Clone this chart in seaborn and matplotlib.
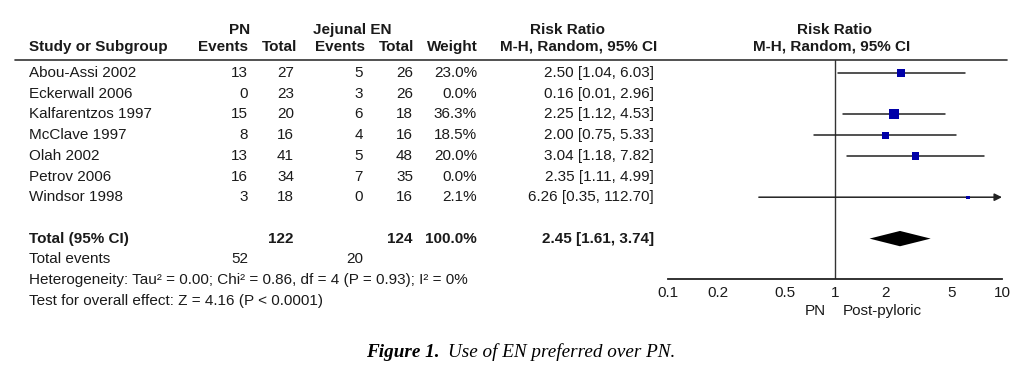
import matplotlib
matplotlib.use("Agg")
import matplotlib.pyplot as plt
import seaborn as sns
import numpy as np
import pandas as pd

# data
studies = ["Abou-Assi 2002", "Eckerwall 2006", "Kalfarentzos 1997", "McClave 1997",
           "Olah 2002", "Petrov 2006", "Windsor 1998"]
pn_events = [13, 0, 15, 8, 13, 16, 3]
pn_total = [27, 23, 20, 16, 41, 34, 18]
en_events = [5, 3, 6, 4, 5, 7, 0]
en_total = [26, 26, 18, 16, 48, 35, 16]
weight = [23.0, 0.0, 36.3, 18.5, 20.0, 0.0, 2.1]
rr = [2.50, 0.16, 2.25, 2.00, 3.04, 2.35, 6.26]
ci_lo = [1.04, 0.01, 1.12, 0.75, 1.18, 1.11, 0.35]
ci_hi = [6.03, 2.96, 4.53, 5.33, 7.82, 4.99, 112.70]

total_pn, total_en = 122, 124
total_weight = 100.0
events_pn, events_en = 52, 20
pooled = 2.45
pooled_lo, pooled_hi = 1.61, 3.74
heterogeneity = "Heterogeneity: Tau\u00b2 = 0.00; Chi\u00b2 = 0.86, df = 4 (P = 0.93); I\u00b2 = 0%"
overall = "Test for overall effect: Z = 4.16 (P < 0.0001)"
xticks = [0.1, 0.2, 0.5, 1, 2, 5, 10]

df = pd.DataFrame({"study": studies, "rr": rr, "lo": ci_lo, "hi": ci_hi, "w": weight})
df["row"] = np.arange(len(df))

sns.set_style("white")
plt.rcParams["font.family"] = ["Liberation Sans", "DejaVu Sans"]
txt = "#1a1a1a"
fs = 11

W, H = 1020, 370
fig = plt.figure(figsize=(W / 100, H / 100), dpi=100)

# text layer: x in pixels, y in row units
tab = fig.add_axes([0, 0, 1, 1])
y0, dy = 73, 20.7
tab.set_xlim(0, W)
tab.set_ylim((H - y0) / dy, -y0 / dy)
tab.axis("off")

def put(x, y, s, ha="right", bold=False, **kw):
    tab.text(x, y, s, ha=ha, va="center", fontsize=fs, color=txt,
             fontweight="bold" if bold else "normal", **kw)

h1, h2 = -2.1, -1.27
put(240, h1, "PN", ha="center", bold=True)
put(352, h1, "Jejunal EN", ha="center", bold=True)
put(568, h1, "Risk Ratio", ha="center", bold=True)
put(835, h1, "Risk Ratio", ha="center", bold=True)
put(29, h2, "Study or Subgroup", ha="left", bold=True)
put(248, h2, "Events", bold=True)
put(297, h2, "Total", bold=True)
put(365, h2, "Events", bold=True)
put(414, h2, "Total", bold=True)
put(478, h2, "Weight", bold=True)
put(579, h2, "M-H, Random, 95% CI", ha="center", bold=True)
put(832, h2, "M-H, Random, 95% CI", ha="center", bold=True)
tab.plot([15, 1007], [-0.63, -0.63], color="#333333", lw=1.2)

for i, r in df.iterrows():
    put(29, r.row, r.study, ha="left")
    put(248, r.row, str(pn_events[i]))
    put(294, r.row, str(pn_total[i]))
    put(363, r.row, str(en_events[i]))
    put(413, r.row, str(en_total[i]))
    put(477, r.row, f"{r.w:.1f}%")
    put(654, r.row, f"{r.rr:.2f} [{r.lo:.2f}, {r.hi:.2f}]")

tr = len(df) + 1
put(29, tr, "Total (95% CI)", ha="left", bold=True)
put(294, tr, str(total_pn), bold=True)
put(413, tr, str(total_en), bold=True)
put(477, tr, f"{total_weight:.1f}%", bold=True)
put(654, tr, f"{pooled:.2f} [{pooled_lo:.2f}, {pooled_hi:.2f}]", bold=True)
put(29, tr + 1, "Total events", ha="left")
put(248, tr + 1, str(events_pn))
put(363, tr + 1, str(events_en))
put(29, tr + 2, heterogeneity, ha="left")
put(29, tr + 3, overall, ha="left")

# caption
cy = (352 - y0) / dy
tab.text(366, cy, "Figure 1.", ha="left", va="center", fontsize=13.8,
         family="Liberation Serif", style="italic", fontweight="bold", color="black")
tab.text(448, cy, "Use of EN preferred over PN.", ha="left", va="center",
         fontsize=13.8, family="Liberation Serif", style="italic", color="black")

# forest plot panel
top_px, bot_px, left_px, right_px = 60, 279, 668, 1002
ax = fig.add_axes([left_px / W, 1 - bot_px / H, (right_px - left_px) / W, (bot_px - top_px) / H])
ax.set_xscale("log")
ax.set_xlim(0.1, 10)
ax.set_ylim((bot_px - y0) / dy, (top_px - y0) / dy)
ax.patch.set_alpha(0)
for s in ["top", "left", "right"]:
    ax.spines[s].set_visible(False)
ax.spines["bottom"].set_color("#222222")
ax.spines["bottom"].set_linewidth(1.3)
ax.set_xticks(xticks)
ax.set_xticklabels([f"{t:g}" for t in xticks], fontsize=fs, color=txt)
ax.minorticks_off()
ax.tick_params(axis="x", direction="inout", length=8, width=1.2, color="#222222", pad=1)
ax.set_yticks([])
ax.axvline(1, color="#333333", lw=1)

shown = df[df.w > 0]
xmax = ax.get_xlim()[1]
for _, r in shown.iterrows():
    if r.hi > xmax:
        ax.annotate("", xy=(xmax, r.row), xytext=(r.lo, r.row),
                    arrowprops=dict(arrowstyle="-|>", color="#222222", lw=1.1,
                                    mutation_scale=11, shrinkA=0, shrinkB=0))
    else:
        ax.plot([r.lo, r.hi], [r.row, r.row], color="#222222", lw=1.1)

side_pt = np.maximum(1.66 * np.sqrt(shown.w), 3.2) * 0.72
sns.scatterplot(data=shown, x="rr", y="row", marker="s", s=side_pt ** 2,
                color="#0000a8", edgecolor="none", ax=ax, legend=False, zorder=3)
ax.set_xlabel("")
ax.set_ylabel("")

hh = 0.37
ax.fill([pooled_lo, pooled, pooled_hi, pooled], [tr, tr - hh, tr, tr + hh],
        color="black", lw=0)

ax.text(0.88, -0.145, "PN", transform=ax.get_xaxis_transform(), ha="right", va="center",
        fontsize=fs, color=txt)
ax.text(1.12, -0.145, "Post-pyloric", transform=ax.get_xaxis_transform(), ha="left",
        va="center", fontsize=fs, color=txt)

fig.savefig("out.png", dpi=100)
